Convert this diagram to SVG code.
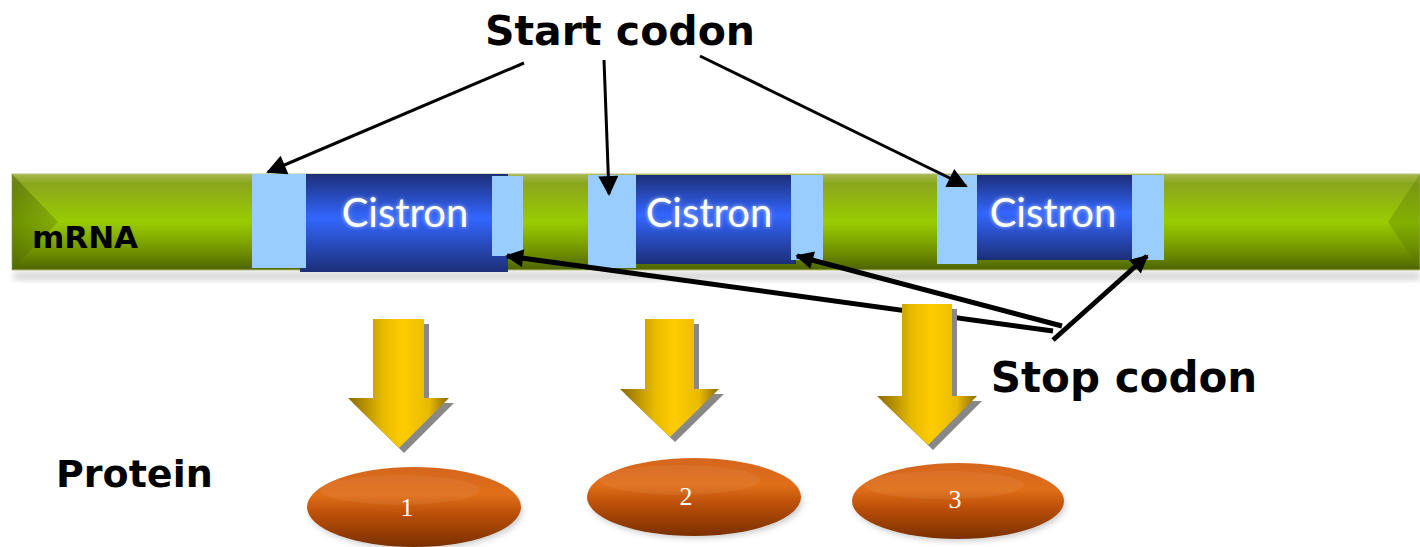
<svg xmlns="http://www.w3.org/2000/svg" width="1420" height="547" viewBox="0 0 1420 547">
<defs>
<linearGradient id="green" x1="0" y1="0" x2="0" y2="1">
<stop offset="0" stop-color="#a6b84e"/>
<stop offset="0.1" stop-color="#8aa61e"/>
<stop offset="0.5" stop-color="#99cc00"/>
<stop offset="0.82" stop-color="#6f8f00"/>
<stop offset="1" stop-color="#4d6400"/>
</linearGradient>
<linearGradient id="greenL" x1="0" y1="0" x2="1" y2="0">
<stop offset="0" stop-color="#4f6a00"/>
<stop offset="1" stop-color="#7a9a10"/>
</linearGradient>
<linearGradient id="blue" x1="0" y1="0" x2="0" y2="1">
<stop offset="0" stop-color="#1c2f78"/>
<stop offset="0.45" stop-color="#3366ff"/>
<stop offset="1" stop-color="#1c2f78"/>
</linearGradient>
<linearGradient id="gold" x1="0" y1="0" x2="1" y2="0">
<stop offset="0" stop-color="#8a6a00"/>
<stop offset="0.35" stop-color="#e8bb00"/>
<stop offset="0.55" stop-color="#ffcc00"/>
<stop offset="0.8" stop-color="#e8bb00"/>
<stop offset="1" stop-color="#8a6a00"/>
</linearGradient>
<linearGradient id="orange" x1="0" y1="0" x2="0" y2="1">
<stop offset="0" stop-color="#d4661e"/>
<stop offset="0.35" stop-color="#e06e18"/>
<stop offset="0.6" stop-color="#b94e08"/>
<stop offset="1" stop-color="#7a3000"/>
</linearGradient>
<filter id="blur" x="-10%" y="-30%" width="120%" height="160%"><feGaussianBlur stdDeviation="3"/></filter>
<filter id="glow" x="-10%" y="-20%" width="120%" height="140%"><feGaussianBlur stdDeviation="2"/></filter>
<marker id="ahs" viewBox="0 0 10 10" refX="9" refY="5" markerWidth="22" markerHeight="20" orient="auto" markerUnits="userSpaceOnUse">
<path d="M0,0 L10,5 L0,10 z" fill="#000"/>
</marker>
<marker id="ahb" viewBox="0 0 10 10" refX="9" refY="5" markerWidth="20" markerHeight="18" orient="auto" markerUnits="userSpaceOnUse">
<path d="M0,0 L10,5 L0,10 z" fill="#000"/>
</marker>
</defs>
<style>
.lb{fill:#99ccff}
.db{fill:url(#blue)}
.cis{font-family:"Lato","DejaVu Sans",sans-serif;font-size:40px;fill:#fff}
.lbl{font-family:"DejaVu Sans","Liberation Sans",sans-serif;font-weight:bold;fill:#000}
.yarrow{fill:url(#gold)}
.yshadow{fill:#888}
.prot{fill:url(#orange)}
.num{font-family:"Liberation Serif",serif;font-size:26px;fill:#fff}
.thin{stroke:#000;stroke-width:3;fill:none}
.thick{stroke:#000;stroke-width:5;fill:none}
</style>

<g id="mrna">
<rect x="14" y="272" width="1406" height="8" fill="#888" opacity="0.35" filter="url(#blur)"/>
<rect x="12" y="174" width="1408" height="96" fill="url(#green)" stroke="#b8c07a" stroke-width="1"/>
<path d="M12,174 L58,222 L12,270 z" fill="url(#greenL)" opacity="0.6"/>
<path d="M1420,174 L1388,222 L1420,270 z" fill="#5c7a00" opacity="0.35"/>
<text x="32" y="248" class="lbl" font-size="31">mRNA</text>
</g>

<g id="cistron1">
<rect x="300" y="174" width="208" height="98" class="db"/>
<rect x="252" y="174" width="54" height="94" class="lb"/>
<rect x="492" y="176" width="31" height="80" class="lb"/>
<text x="405" y="227" text-anchor="middle" class="cis" filter="url(#glow)" fill-opacity="0.6">Cistron</text>
<text x="405" y="227" text-anchor="middle" class="cis">Cistron</text>
</g>
<g id="cistron2">
<rect x="636" y="175" width="160" height="89" class="db"/>
<rect x="588" y="175" width="48" height="93" class="lb"/>
<rect x="791" y="175" width="32" height="85" class="lb"/>
<text x="709" y="227" text-anchor="middle" class="cis" filter="url(#glow)" fill-opacity="0.6">Cistron</text>
<text x="709" y="227" text-anchor="middle" class="cis">Cistron</text>
</g>
<g id="cistron3">
<rect x="977" y="175" width="156" height="85" class="db"/>
<rect x="937" y="175" width="40" height="89" class="lb"/>
<rect x="1132" y="175" width="32" height="85" class="lb"/>
<text x="1053" y="227" text-anchor="middle" class="cis" filter="url(#glow)" fill-opacity="0.6">Cistron</text>
<text x="1053" y="227" text-anchor="middle" class="cis">Cistron</text>
</g>

<g id="start-label"><text x="620" y="45" text-anchor="middle" class="lbl" font-size="41">Start codon</text></g>
<g id="stop-label"><text x="1124" y="392" text-anchor="middle" class="lbl" font-size="42">Stop codon</text></g>
<g id="protein-label"><text x="56" y="487" class="lbl" font-size="38">Protein</text></g>

<g id="connectors">
<line x1="524" y1="63" x2="268" y2="172" class="thin" marker-end="url(#ahs)"/>
<line x1="604" y1="60" x2="609" y2="194" class="thin" marker-end="url(#ahs)"/>
<line x1="700" y1="56" x2="966" y2="186" class="thin" marker-end="url(#ahs)"/>
<line x1="1053" y1="331" x2="507" y2="256" class="thick" marker-end="url(#ahb)"/>
<line x1="1062" y1="326" x2="797" y2="256" class="thick" marker-end="url(#ahb)"/>
<line x1="1053" y1="340" x2="1147" y2="256" class="thick" marker-end="url(#ahb)"/>
</g>

<g id="yarrow1">
<path d="M378,324 L429,324 L429,403 L454,403 L404,453 L353,403 L378,403 z" class="yshadow"/>
<path d="M373,319 L424,319 L424,398 L449,398 L399,448 L348,398 L373,398 z" class="yarrow"/>
</g>
<g id="yarrow2">
<path d="M650,324 L699,324 L699,394 L724,394 L675,442 L625,394 L650,394 z" class="yshadow"/>
<path d="M645,319 L694,319 L694,389 L719,389 L670,437 L620,389 L645,389 z" class="yarrow"/>
</g>
<g id="yarrow3">
<path d="M907,309 L957,309 L957,401 L982,401 L933,450 L882,401 L907,401 z" class="yshadow"/>
<path d="M902,304 L952,304 L952,396 L977,396 L928,445 L877,396 L902,396 z" class="yarrow"/>
</g>

<g id="protein1">
<ellipse cx="416" cy="511" rx="106" ry="38" fill="#777" opacity="0.4" filter="url(#blur)"/>
<ellipse cx="414" cy="507" rx="107" ry="40" class="prot"/>
<ellipse cx="400" cy="490" rx="80" ry="15" fill="#fff" opacity="0.06"/>
<text x="407" y="516" text-anchor="middle" class="num">1</text>
</g>
<g id="protein2">
<ellipse cx="696" cy="501" rx="106" ry="37" fill="#777" opacity="0.4" filter="url(#blur)"/>
<ellipse cx="694" cy="497" rx="107" ry="39" class="prot"/>
<ellipse cx="680" cy="480" rx="80" ry="15" fill="#fff" opacity="0.06"/>
<text x="686" y="505" text-anchor="middle" class="num">2</text>
</g>
<g id="protein3">
<ellipse cx="960" cy="505" rx="105" ry="36" fill="#777" opacity="0.4" filter="url(#blur)"/>
<ellipse cx="958" cy="501" rx="106" ry="38" class="prot"/>
<ellipse cx="944" cy="485" rx="80" ry="14" fill="#fff" opacity="0.06"/>
<text x="955" y="508" text-anchor="middle" class="num">3</text>
</g>
</svg>
